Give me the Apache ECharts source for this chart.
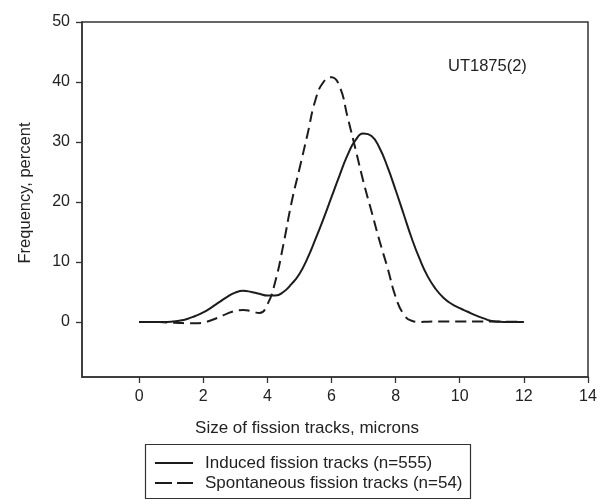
<!DOCTYPE html>
<html>
<head>
<meta charset="utf-8">
<script src="https://cdn.jsdelivr.net/npm/echarts@6/dist/echarts.min.js"></script>
<style>
html,body{margin:0;padding:0;background:#fff;}
#c{width:605px;height:502px;}
</style>
</head>
<body>
<div id="c"></div>
<script>
const xTicks = [0, 2, 4, 6, 8, 10, 12, 14];
const yTicks = [0, 10, 20, 30, 40, 50];

const inducedX = [0, 0.25, 0.5, 0.75, 1, 1.25, 1.5, 1.75, 2, 2.25, 2.5, 2.75, 3, 3.25, 3.5, 3.75, 4, 4.25, 4.5, 4.75, 5, 5.25, 5.5, 5.75, 6, 6.25, 6.5, 6.75, 7, 7.25, 7.5, 7.75, 8, 8.25, 8.5, 8.75, 9, 9.25, 9.5, 9.75, 10, 10.25, 10.5, 10.75, 11, 11.25, 11.5, 11.75, 12];
const inducedY = [0, 0, 0, 0, 0.05, 0.2, 0.5, 1.0, 1.6, 2.4, 3.3, 4.2, 4.9, 5.2, 5.0, 4.7, 4.4, 4.4, 5.0, 6.3, 8.0, 10.6, 13.8, 17.2, 20.8, 24.4, 27.8, 30.3, 31.4, 31.0, 29.0, 25.8, 22.0, 18.0, 14.0, 10.5, 7.6, 5.5, 4.0, 3.0, 2.3, 1.7, 1.1, 0.6, 0.15, 0.03, 0, 0, 0];

const spontX = [0, 0.25, 0.5, 0.75, 1, 1.25, 1.5, 1.75, 2, 2.25, 2.5, 2.75, 3, 3.25, 3.5, 3.75, 4, 4.25, 4.5, 4.75, 5, 5.25, 5.5, 5.75, 6, 6.25, 6.5, 6.75, 7, 7.25, 7.5, 7.75, 8, 8.25, 8.5, 8.75, 9, 9.5, 10, 10.5, 11, 11.5, 12];
const spontY = [0, 0, 0, -0.05, -0.1, -0.15, -0.2, -0.2, -0.1, 0.3, 0.8, 1.4, 1.85, 2.0, 1.8, 1.5, 2.9, 6.8, 12.9, 19.8, 25.5, 31.2, 37.0, 40.0, 40.8, 39.3, 34.2, 28.8, 23.3, 18.4, 13.5, 9.0, 4.2, 1.3, 0.2, 0, 0.05, 0.1, 0.1, 0.1, 0.1, 0.05, 0];

const seriesNames = ['Induced fission tracks (n=555)', 'Spontaneous fission tracks (n=54)'];
const sampleLabel = 'UT1875(2)';
const xTitle = 'Size of fission tracks, microns';
const yTitle = 'Frequency, percent';

const font = 'Liberation Sans, Arial, sans-serif';
const ink = '#1c1c1c';

const chart = echarts.init(document.getElementById('c'), null, {renderer: 'canvas'});
chart.setOption({
  backgroundColor: '#fff',
  animation: false,
  grid: {left: 82, right: 17, top: 22, bottom: 125, show: true, borderColor: '#333', borderWidth: 1.5, backgroundColor: 'transparent'},
  xAxis: {
    type: 'value', min: -1.78, max: 14,
    axisLine: {show: true, onZero: false, lineStyle: {color: '#333', width: 1.5}},
    axisTick: {show: true, length: 6, lineStyle: {color: '#333', width: 1.3}, customValues: xTicks},
    axisLabel: {color: '#222', fontSize: 16, fontFamily: font, margin: 12, customValues: xTicks},
    splitLine: {show: false}
  },
  yAxis: {
    type: 'value', min: -9.17, max: 50,
    axisLine: {show: true, onZero: false, lineStyle: {color: '#333', width: 1.5}},
    axisTick: {show: true, length: 6, lineStyle: {color: '#333', width: 1.3}, customValues: yTicks},
    axisLabel: {color: '#222', fontSize: 16, fontFamily: font, margin: 12, customValues: yTicks},
    splitLine: {show: false}
  },
  legend: {show: false},
  graphic: [
    {type: 'text', left: 448, top: 58, style: {text: sampleLabel, fill: '#222', font: '16.5px ' + font}},
    {type: 'text', x: 307, y: 428, style: {text: xTitle, fill: '#222', font: '17px ' + font, align: 'center', verticalAlign: 'middle'}},
    {type: 'text', x: 25, y: 193, rotation: Math.PI / 2, style: {text: yTitle, fill: '#222', font: '16.5px ' + font, align: 'center', verticalAlign: 'middle'}},
    {type: 'rect', shape: {x: 145.5, y: 444.5, width: 325, height: 54}, style: {fill: 'none', stroke: '#333', lineWidth: 1.2}},
    {type: 'line', shape: {x1: 155, y1: 463, x2: 193, y2: 463}, style: {stroke: ink, lineWidth: 2}},
    {type: 'line', shape: {x1: 155, y1: 483, x2: 172, y2: 483}, style: {stroke: ink, lineWidth: 2}},
    {type: 'line', shape: {x1: 177, y1: 483, x2: 193, y2: 483}, style: {stroke: ink, lineWidth: 2}},
    {type: 'text', x: 205, y: 463, style: {text: seriesNames[0], fill: '#222', font: '17px ' + font, verticalAlign: 'middle'}},
    {type: 'text', x: 205, y: 483, style: {text: seriesNames[1], fill: '#222', font: '17px ' + font, verticalAlign: 'middle'}}
  ],
  series: [
    {
      name: seriesNames[0], type: 'line', smooth: 0.5, symbol: 'none',
      data: inducedX.map((x, i) => [x, inducedY[i]]),
      lineStyle: {color: ink, width: 2, type: 'solid'},
      itemStyle: {color: ink}
    },
    {
      name: seriesNames[1], type: 'line', smooth: 0.5, symbol: 'none',
      data: spontX.map((x, i) => [x, spontY[i]]),
      lineStyle: {color: ink, width: 2, type: [11, 6]},
      itemStyle: {color: ink}
    }
  ]
});
</script>
</body>
</html>
